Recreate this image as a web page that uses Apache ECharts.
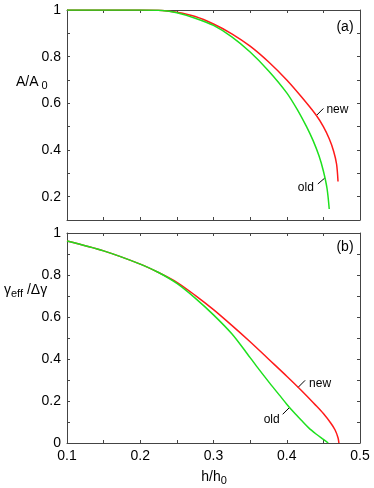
<!DOCTYPE html>
<html>
<head>
<meta charset="utf-8">
<script src="https://cdn.jsdelivr.net/npm/echarts@6/dist/echarts.min.js"></script>
<style>
  html, body { margin: 0; padding: 0; background: #fff; }
  #chart { width: 374px; height: 488px; }
</style>
</head>
<body>
<div id="chart"></div>
<script>
// panel (a): A/A0 vs h/h0
const hNewA = [0.10, 0.15, 0.20, 0.23, 0.25, 0.275, 0.30, 0.325, 0.35, 0.375, 0.40, 0.42, 0.44, 0.45, 0.458, 0.464, 0.468, 0.470];
const aNew = [1, 1, 1, 0.998, 0.99, 0.972, 0.94, 0.898, 0.845, 0.778, 0.70, 0.628, 0.55, 0.50, 0.448, 0.395, 0.34, 0.265];
const hOldA = [0.10, 0.15, 0.20, 0.23, 0.25, 0.275, 0.30, 0.325, 0.35, 0.375, 0.40, 0.415, 0.427, 0.436, 0.444, 0.45, 0.455, 0.458];
const aOld = [1, 1, 1, 0.998, 0.988, 0.965, 0.934, 0.885, 0.82, 0.74, 0.645, 0.57, 0.50, 0.44, 0.375, 0.31, 0.235, 0.147];

// panel (b): gamma_eff/dgamma vs h/h0
const hNewG = [0.10, 0.15, 0.20, 0.225, 0.25, 0.275, 0.30, 0.325, 0.35, 0.375, 0.40, 0.42, 0.44, 0.45, 0.46, 0.466, 0.470, 0.4712];
const gNew = [0.962, 0.915, 0.852, 0.812, 0.765, 0.703, 0.635, 0.56, 0.482, 0.40, 0.318, 0.25, 0.178, 0.14, 0.095, 0.062, 0.025, 0];
const hOldG = [0.10, 0.15, 0.20, 0.225, 0.25, 0.275, 0.30, 0.325, 0.345, 0.36, 0.377, 0.39, 0.40, 0.41, 0.42, 0.43, 0.44, 0.45, 0.4566];
const gOld = [0.962, 0.915, 0.852, 0.812, 0.76, 0.69, 0.61, 0.52, 0.43, 0.36, 0.284, 0.228, 0.185, 0.145, 0.108, 0.072, 0.043, 0.017, 0];

const xTicks = [0.1, 0.2, 0.3, 0.4, 0.5];

const font = 'Liberation Sans';
const frameColor = '#444';
const red = '#ff1a1a';
const green = '#1ee01e';

function pairs(xs, ys) {
    return xs.map(function(x, i) {
        return [x, ys[i]];
    });
}
function evenTenth(v) {
    return Math.round(v * 10) % 2 === 0;
}

function makeX(grid, pos, labels) {
    return {
        type: 'value',
        gridIndex: grid,
        position: pos,
        min: 0.1,
        max: 0.5,
        interval: 0.05,
        axisLine: {show: true, onZero: false, lineStyle: {color: frameColor, width: 1}},
        axisTick: {show: true, inside: true, length: 3, lineStyle: {color: frameColor}},
        splitLine: {show: false},
        axisLabel: {
            show: labels,
            margin: 6,
            color: '#000',
            fontFamily: font,
            fontSize: 14,
            formatter: function(v) {
                let hit = xTicks.find(function(t) { return Math.abs(t - v) < 1e-6; });
                return hit === undefined ? '' : String(hit);
            }
        }
    };
}
function makeY(grid, pos, min, labels) {
    return {
        type: 'value',
        gridIndex: grid,
        position: pos,
        min: min,
        max: 1,
        interval: 0.1,
        axisLine: {show: true, onZero: false, lineStyle: {color: frameColor, width: 1}},
        axisTick: {show: true, inside: true, length: 3, lineStyle: {color: frameColor}},
        splitLine: {show: false},
        axisLabel: {
            show: labels,
            margin: 6,
            color: '#000',
            fontFamily: font,
            fontSize: 14,
            formatter: function(v) {
                if (!evenTenth(v)) return '';
                let r = Math.round(v * 10) / 10;
                return String(r);
            }
        }
    };
}
function lineSeries(name, data, color, axis) {
    return {
        name: name,
        type: 'line',
        xAxisIndex: axis,
        yAxisIndex: axis,
        data: data,
        showSymbol: false,
        smooth: 0.3,
        lineStyle: {color: color, width: 1.5},
        silent: true
    };
}

let chart = echarts.init(document.getElementById('chart'));
chart.setOption({
    animation: false,
    backgroundColor: '#fff',
    grid: [
        {left: 67, right: 14, top: 10, height: 210},
        {left: 67, right: 14, top: 233, height: 210}
    ],
    xAxis: [
        makeX(0, 'bottom', false),
        makeX(0, 'top', false),
        makeX(1, 'bottom', true),
        makeX(1, 'top', false)
    ],
    yAxis: [
        makeY(0, 'left', 0.1, true),
        makeY(0, 'right', 0.1, false),
        makeY(1, 'left', 0, true),
        makeY(1, 'right', 0, false)
    ],
    series: [
        lineSeries('new', pairs(hNewA, aNew), red, 0),
        lineSeries('old', pairs(hOldA, aOld), green, 0),
        lineSeries('new', pairs(hNewG, gNew), red, 2),
        lineSeries('old', pairs(hOldG, gOld), green, 2)
    ]
});

// annotations placed relative to the curves
function px(axis, pt) {
    return chart.convertToPixel({xAxisIndex: axis, yAxisIndex: axis}, pt);
}
function pointer(p, dx, dy) {
    return {
        type: 'line',
        shape: {x1: p[0], y1: p[1], x2: p[0] + dx, y2: p[1] + dy},
        style: {stroke: '#000', lineWidth: 1}
    };
}
function note(txt, x, y, align, size) {
    return {
        type: 'text',
        x: x,
        y: y,
        style: {
            text: txt,
            fill: '#000',
            font: size + 'px "' + font + '"',
            align: align,
            verticalAlign: 'middle'
        }
    };
}

let pNewA = px(0, [0.4405, 0.548]);
let pOldA = px(0, [0.452, 0.28]);
let pNewG = px(2, [0.4155, 0.265]);
let pOldG = px(2, [0.404, 0.17]);

chart.setOption({
    graphic: [
        pointer(pNewA, 7, -7),
        note('new', pNewA[0] + 10, pNewA[1] - 6, 'left', 12),
        pointer(pOldA, -7, 6),
        note('old', pOldA[0] - 11, pOldA[1] + 10, 'right', 12),
        pointer(pNewG, 7, -7),
        note('new', pNewG[0] + 11, pNewG[1] - 4, 'left', 12),
        pointer(pOldG, -7, 7),
        note('old', pOldG[0] - 10, pOldG[1] + 12, 'right', 12),
        note('(a)', 345, 27, 'center', 14),
        note('(b)', 345, 247, 'center', 14),
        {
            type: 'text',
            x: 16,
            y: 82,
            style: {
                text: '{m|A/A}{s| 0}',
                verticalAlign: 'middle',
                rich: {
                    m: {fontFamily: font, fontSize: 14, fill: '#000'},
                    s: {fontFamily: font, fontSize: 11, fill: '#000', padding: [8, 0, 0, 0]}
                }
            }
        },
        {
            type: 'text',
            x: 4,
            y: 290,
            style: {
                text: '{m|γ}{s|eff}{m| /Δγ}',
                verticalAlign: 'middle',
                rich: {
                    m: {fontFamily: font, fontSize: 14, fill: '#000'},
                    s: {fontFamily: font, fontSize: 11, fill: '#000', padding: [8, 0, 0, 0]}
                }
            }
        },
        {
            type: 'text',
            x: 214,
            y: 477,
            style: {
                text: '{m|h/h}{s|0}',
                align: 'center',
                verticalAlign: 'middle',
                rich: {
                    m: {fontFamily: font, fontSize: 14, fill: '#000'},
                    s: {fontFamily: font, fontSize: 11, fill: '#000', padding: [8, 0, 0, 0]}
                }
            }
        }
    ]
});
</script>
</body>
</html>
